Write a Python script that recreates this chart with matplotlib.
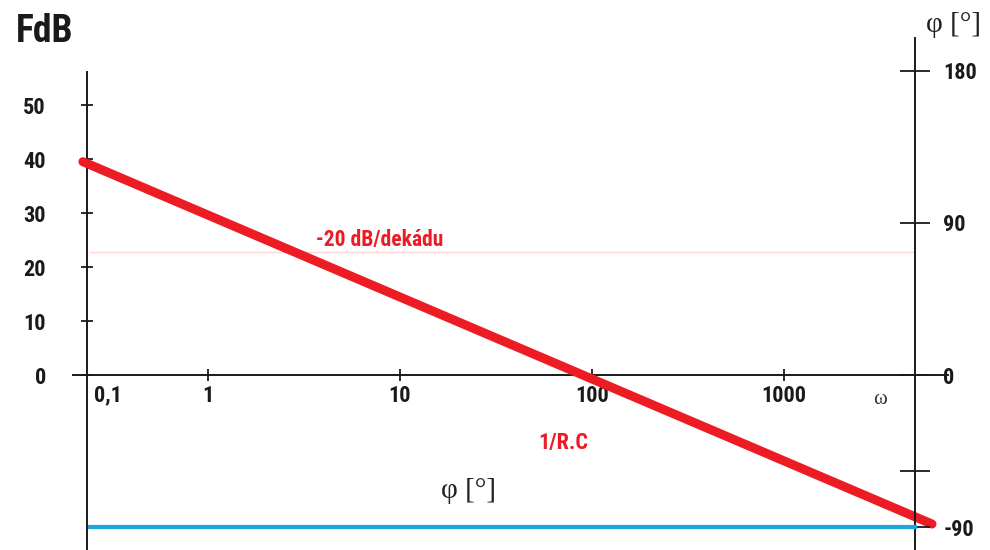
import numpy as np
import matplotlib.pyplot as plt
from matplotlib import font_manager

# frekvencne charakteristiky RC clanku (asymptoty)
omega_ticks = [1, 10, 100, 1000]
omega_labels = ["1", "10", "100", "1000"]
db_ticks = [0, 10, 20, 30, 40, 50]
phase_ticks = [180, 90, 0, -90]
phase_minor = [-57]

omega_gain = [0.223, 5900]
gain_db = [39.5, -27.6]

omega_phase = [0.243, 4810]
phase_deg = [-90, -90]

omega_guide = [0.243, 4810]
guide_db = [22.8, 22.8]

# uzsi pismo, pokud je k dispozici
names = {f.name for f in font_manager.fontManager.ttflist}
narrow = [n for n in ["Roboto Condensed", "Liberation Sans Narrow", "DejaVu Sans Condensed",
                      "Open Sans Condensed"] if n in names]
cond = narrow + ["DejaVu Sans"]
serif = ["Liberation Serif", "DejaVu Serif"]
stretch = "condensed"

fig = plt.figure(figsize=(9.9, 5.5), dpi=100)
ax = fig.add_axes([0, 0, 1, 1])

# pixely -> data: omega log, 192 px na dekadu, 1 lezi na x=208
px_dec = 192.0
x0 = 208.0
ax.set_xscale("log")
ax.set_xlim(10 ** (-x0 / px_dec), 10 ** ((990 - x0) / px_dec))
db_px = 5.4
ax.set_ylim(-(550 - 375) / db_px, 375 / db_px)

def om(px):
    return 10 ** ((px - x0) / px_dec)

ax.plot(omega_guide, guide_db, color="#ffd4d4", lw=1, zorder=1)
ax.plot(omega_gain, gain_db, color="#ed1c24", lw=6.5, solid_capstyle="round", zorder=5)

for s in ["top", "right"]:
    ax.spines[s].set_visible(False)
ax.spines["left"].set_position(("data", om(87)))
ax.spines["left"].set_bounds(-(550 - 375) / db_px, (375 - 72) / db_px)
ax.spines["bottom"].set_position(("data", 0))
ax.spines["bottom"].set_bounds(om(73), om(948))
for s in ["left", "bottom"]:
    ax.spines[s].set_linewidth(1.4)
    ax.spines[s].set_color("#1a1a1a")

ax.set_yticks(db_ticks)
ax.set_yticklabels([str(v) for v in db_ticks])
ax.tick_params(axis="y", direction="inout", length=9, width=1.3, pad=25, colors="#1a1a1a")
ax.set_xticks(omega_ticks)
ax.set_xticklabels(omega_labels)
ax.minorticks_off()
ax.tick_params(axis="x", which="both", direction="inout", length=9, width=1.3, pad=3, colors="#1a1a1a")
for lab in ax.get_xticklabels() + ax.get_yticklabels():
    lab.set_family(cond)
    lab.set_stretch(stretch)
    lab.set_fontweight("bold")
    lab.set_fontsize(16)
ax.patch.set_alpha(0)

# fazova osa vpravo
ax2 = ax.twinx()
ph_px = 152 / 90.0
ax2.set_ylim(-(550 - 375) / ph_px, 375 / ph_px)
ax2.plot(omega_phase, phase_deg, color="#1ba6dc", lw=3, zorder=4)
for s in ["top", "left", "bottom"]:
    ax2.spines[s].set_visible(False)
ax2.spines["right"].set_position(("data", om(915)))
ax2.spines["right"].set_bounds(-(550 - 375) / ph_px, (375 - 38) / ph_px)
ax2.spines["right"].set_linewidth(1.4)
ax2.spines["right"].set_color("#1a1a1a")
ax2.set_yticks(phase_ticks)
ax2.set_yticklabels([str(v) for v in phase_ticks])
ax2.set_yticks(phase_minor, minor=True)
ax2.tick_params(axis="y", which="both", direction="inout", length=21, width=1.3, pad=10, colors="#1a1a1a")
for lab in ax2.get_yticklabels():
    lab.set_family(cond)
    lab.set_stretch(stretch)
    lab.set_fontweight("bold")
    lab.set_fontsize(16)

def ft(x, y, s, **kw):
    fig.text(x / 990, 1 - y / 550, s, **kw)

ft(16, 31, "FdB", family=cond, stretch=stretch, fontweight="bold", fontsize=27, va="center", ha="left", color="#1a1a1a")
ft(108, 395, "0,1", family=cond, stretch=stretch, fontweight="bold", fontsize=16, va="center", ha="center", color="#1a1a1a")
ft(880, 400, "ω", family=serif, fontsize=15, va="center", ha="center", color="#333333")
ft(926, 25, "φ [°]", family=serif, fontsize=21, va="center", ha="left", color="#222222")
ft(441, 491, "φ [°]", family=serif, fontsize=21, va="center", ha="left", color="#222222")
ft(316, 240, "-20 dB/dekádu", family=cond, stretch=stretch, fontweight="bold", fontsize=15.5, va="center", ha="left", color="#ed1c24")
ft(563, 443, "1/R.C", family=cond, stretch=stretch, fontweight="bold", fontsize=16, va="center", ha="center", color="#ed1c24")

fig.savefig("out.png", dpi=100)
